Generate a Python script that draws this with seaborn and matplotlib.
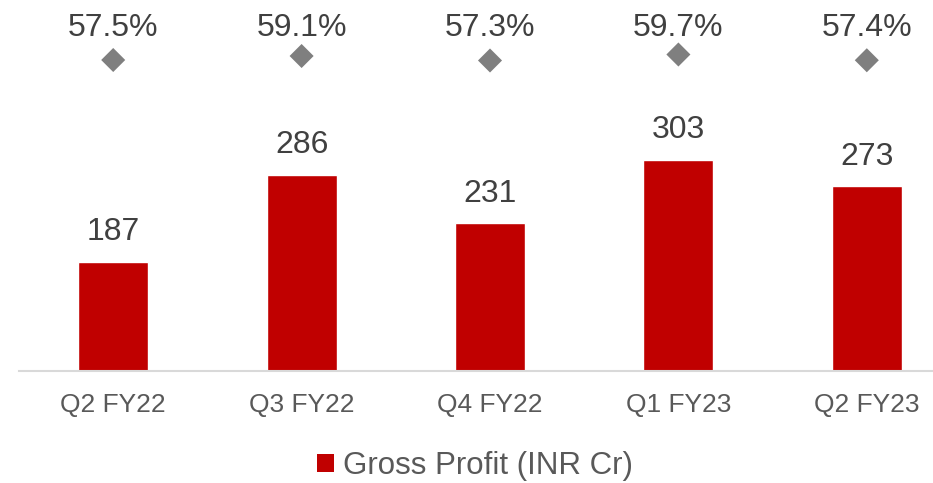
import pandas as pd
import numpy as np
import seaborn as sns
import matplotlib.pyplot as plt
from matplotlib.patches import Patch

quarters = ["Q2 FY22", "Q3 FY22", "Q4 FY22", "Q1 FY23", "Q2 FY23"]
gross_profit = [187, 286, 231, 303, 273]
gross_margin = [57.5, 59.1, 57.3, 59.7, 57.4]

sns.set_theme(style="white")
plt.rcParams['font.family'] = ['Liberation Sans', 'DejaVu Sans']

df = pd.DataFrame({"quarter": quarters, "gp": gross_profit, "gm": gross_margin})

fig = plt.figure(figsize=(9.33, 4.83), dpi=100)
ax = fig.add_axes([19 / 933, 112 / 483, 942 / 933, 371 / 483])

sns.barplot(data=df, x="quarter", y="gp", color="#C00000", saturation=1,
            width=70 / 188.5, ax=ax)
ax.set_xlim(-0.5, 4.5)
ax.set_ylim(63, 63 + 371 / 0.879)

for i, v in enumerate(gross_profit):
    ax.annotate(str(v), (i, v), xytext=(0, 10.5), textcoords="offset points",
                ha="center", va="bottom", fontsize=23, color="#404040")

ax.set_xlabel("")
ax.set_ylabel("")
ax.set_yticks([])
ax.tick_params(axis="x", length=0, labelsize=19, labelcolor="#595959", pad=16)
for s in ["top", "left", "right"]:
    ax.spines[s].set_visible(False)
ax.spines["bottom"].set_color("#D9D9D9")
ax.spines["bottom"].set_linewidth(1.5)

# margin on secondary axis
ax2 = ax.twinx()
sns.scatterplot(x=np.arange(len(quarters)), y=gross_margin, marker="D", s=150,
                color="#7F7F7F", edgecolor="none", ax=ax2)
ax2.set_ylim(57.5 - 311 / 2.5, 57.5 + 60 / 2.5)
ax2.set_xlim(-0.5, 4.5)
for i, v in enumerate(gross_margin):
    ax2.text(i, 1 - 28 / 371, f"{v}%", transform=ax2.get_xaxis_transform(),
             ha="center", va="center", fontsize=23, color="#404040")
ax2.set_yticks([])
ax2.set_ylabel("")
for s in ax2.spines.values():
    s.set_visible(False)

handles = [Patch(facecolor="#C00000", edgecolor="none", label="Gross Profit (INR Cr)")]
fig.legend(handles=handles, loc="center", bbox_to_anchor=(475 / 933, 1 - 466 / 483),
           frameon=False, fontsize=22.5, handlelength=0.55, handleheight=0.55,
           handletextpad=0.3, labelcolor="#595959")

fig.savefig("out.png", dpi=100)
